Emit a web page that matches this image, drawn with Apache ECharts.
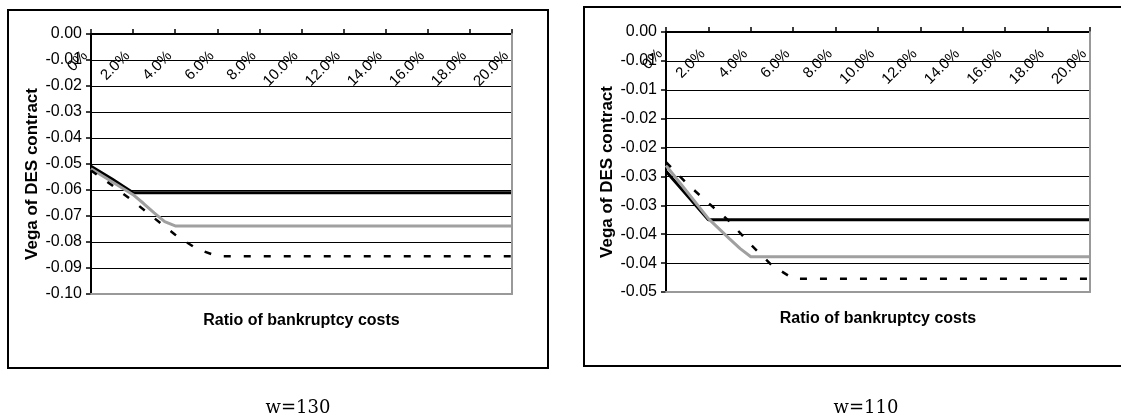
<!DOCTYPE html>
<html><head><meta charset="utf-8">
<script src="https://cdn.jsdelivr.net/npm/echarts@6/dist/echarts.min.js"></script>
<style>html,body{margin:0;padding:0;background:#fff}#c{width:1121px;height:420px}</style>
</head><body><div id="c"></div>
<script>
// ---- tick labels / texts ----
const xTickLabels = ['0%','2.0%','4.0%','6.0%','8.0%','10.0%','12.0%','14.0%','16.0%','18.0%','20.0%'];
const yTickLabels130 = ['0.00','-0.01','-0.02','-0.03','-0.04','-0.05','-0.06','-0.07','-0.08','-0.09','-0.10'];
const yTickLabels110 = ['0.00','-0.01','-0.01','-0.02','-0.02','-0.03','-0.03','-0.04','-0.04','-0.05'];
const captions = ['w=130', 'w=110'];
const xTitle = 'Ratio of bankruptcy costs';
const yTitle = 'Vega of DES contract';

// ---- w=130 (ratio of bankruptcy costs in %, vega) ----
const w130BlackX = [0, 1, 2, 20];
const w130BlackY = [-0.0509, -0.0558, -0.0611, -0.0611];
const w130GrayX  = [0, 1, 2, 2.5, 3, 3.5, 4, 20];
const w130GrayY  = [-0.0518, -0.0568, -0.0618, -0.0652, -0.0688, -0.0722, -0.0738, -0.0738];
const w130DashX  = [0, 1, 2, 3, 4, 5, 6, 20];
const w130DashY  = [-0.0525, -0.0582, -0.0643, -0.0708, -0.0772, -0.0825, -0.0855, -0.0855];

// ---- w=110 ----
const w110BlackX = [0, 1, 2, 20];
const w110BlackY = [-0.0241, -0.0283, -0.0325, -0.0325];
const w110GrayX  = [0, 1, 2, 3, 3.5, 4, 20];
const w110GrayY  = [-0.0231, -0.0277, -0.0323, -0.0358, -0.0375, -0.0389, -0.0389];
const w110DashX  = [0, 1, 2, 3, 4, 5, 6, 20];
const w110DashY  = [-0.0225, -0.0263, -0.0296, -0.0328, -0.0368, -0.0404, -0.0427, -0.0427];

const FONT = '"Liberation Sans", Arial, sans-serif';
function zip(xs, ys) { return xs.map((x, i) => [x, ys[i]]); }

const panels = [
  { grid: {left: 91, top: 34, width: 421, height: 260}, yMin: -0.10, yInt: 0.01, yLabels: yTickLabels130,
    black: zip(w130BlackX, w130BlackY), gray: zip(w130GrayX, w130GrayY), dash: zip(w130DashX, w130DashY),
    caption: captions[0], capX: 298 },
  { grid: {left: 666, top: 32, width: 424, height: 260}, yMin: -0.045, yInt: 0.005, yLabels: yTickLabels110,
    black: zip(w110BlackX, w110BlackY), gray: zip(w110GrayX, w110GrayY), dash: zip(w110DashX, w110DashY),
    caption: captions[1], capX: 866 }
];

const grid = [], xAxis = [], yAxis = [], series = [], title = [];
panels.forEach((p, i) => {
  grid.push(Object.assign({ containLabel: false, outerBoundsMode: 'none' }, p.grid));
  xAxis.push({
    type: 'value', gridIndex: i, position: 'top', min: 0, max: 20, interval: 2, z: 1,
    axisLine: {show: true, onZero: false, lineStyle: {color: '#000', width: 2}},
    axisTick: {show: true, inside: false, length: 5, lineStyle: {color: '#000', width: 1.5}},
    axisLabel: {show: true, inside: true, rotate: -45, margin: 14, padding: [0, 8, 0, 0],
      fontFamily: FONT, fontSize: 15, color: '#000', showMinLabel: true, showMaxLabel: true,
      formatter: v => xTickLabels[Math.round(v / 2)]},
    splitLine: {show: false}
  });
  xAxis.push({
    type: 'value', gridIndex: i, position: 'bottom', min: 0, max: 20, interval: 2, z: 3,
    axisLine: {show: true, onZero: false, lineStyle: {color: '#999', width: 2}},
    axisTick: {show: false}, axisLabel: {show: false}, splitLine: {show: false},
    name: xTitle, nameLocation: 'middle', nameGap: 19,
    nameTextStyle: {fontFamily: FONT, fontSize: 16, fontWeight: 'bold', color: '#000'}
  });
  yAxis.push({
    type: 'value', gridIndex: i, position: 'left', min: p.yMin, max: 0, interval: p.yInt, z: 1,
    axisLine: {show: true, onZero: false, lineStyle: {color: '#000', width: 2}},
    axisTick: {show: true, inside: false, length: 5, lineStyle: {color: '#000', width: 1.5}},
    axisLabel: {show: true, margin: 9, fontFamily: FONT, fontSize: 16, color: '#000',
      showMinLabel: true, showMaxLabel: true,
      formatter: v => p.yLabels[Math.round(-v / p.yInt)]},
    splitLine: {show: true, lineStyle: {color: '#000', width: 1}},
    name: yTitle, nameLocation: 'middle', nameGap: 50, nameRotate: 90,
    nameTextStyle: {fontFamily: FONT, fontSize: 17, fontWeight: 'bold', color: '#000', padding: [0, 20, 0, 0]}
  });
  yAxis.push({
    type: 'value', gridIndex: i, position: 'right', min: p.yMin, max: 0, interval: p.yInt, z: 3,
    axisLine: {show: true, onZero: false, lineStyle: {color: '#999', width: 2}},
    axisTick: {show: false}, axisLabel: {show: false}, splitLine: {show: false}
  });
  const xi = 2 * i, yi = 2 * i;
  series.push({type: 'line', xAxisIndex: xi, yAxisIndex: yi, data: p.black, symbol: 'none', z: 2,
    lineStyle: {color: '#000', width: 3}});
  series.push({type: 'line', xAxisIndex: xi, yAxisIndex: yi, data: p.gray, symbol: 'none', z: 2,
    lineStyle: {color: '#a0a0a0', width: 3}});
  series.push({type: 'line', xAxisIndex: xi, yAxisIndex: yi, data: p.dash, symbol: 'none', z: 2,
    lineStyle: {color: '#000', width: 2.5, type: [7, 13]}});
  title.push({text: p.caption, left: p.capX, top: 408, textAlign: 'center', textVerticalAlign: 'middle', padding: 0,
    textStyle: {fontFamily: '"DejaVu Serif", "Liberation Serif", serif', fontSize: 18, fontWeight: 'normal', color: '#000'}});
});

const chart = echarts.init(document.getElementById('c'), null, {renderer: 'canvas'});
chart.setOption({
  backgroundColor: '#fff',
  animation: false,
  tooltip: {show: false},
  legend: {show: false},
  title: title,
  grid: grid,
  xAxis: xAxis,
  yAxis: yAxis,
  series: series,
  graphic: [
    {type: 'rect', silent: true, z: 10, shape: {x: 8, y: 10, width: 540, height: 358},
      style: {fill: 'none', stroke: '#000', lineWidth: 2}},
    {type: 'rect', silent: true, z: 10, shape: {x: 584, y: 7, width: 548, height: 359},
      style: {fill: 'none', stroke: '#000', lineWidth: 2}}
  ]
});
</script></body></html>
